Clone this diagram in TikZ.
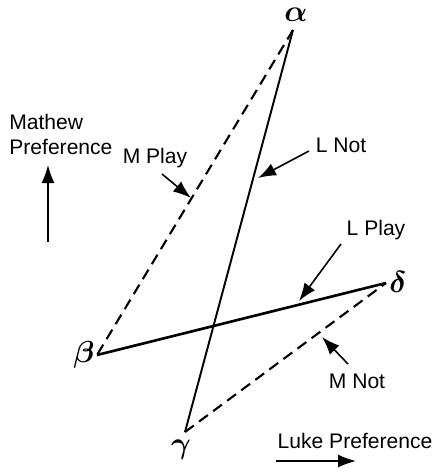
\documentclass[tikz,border=0pt]{standalone}
\usepackage{amsmath}
\usepackage{fontspec}
\setsansfont{Liberation Sans}
\usetikzlibrary{arrows.meta, positioning}

\begin{document}
\begin{tikzpicture}[x=0.02cm, y=-0.02cm,
    side/.style={line width=1.1pt},
    dashside/.style={line width=1.2pt, dash pattern=on 0.22cm off 0.13cm},
    pointer/.style={-{Latex[length=0.36cm, width=0.26cm]}, line width=0.9pt},
    tag/.style={font=\sffamily\fontsize{12}{14}\selectfont, inner sep=0pt},
    vertex/.style={font=\fontsize{17}{17}\selectfont, inner sep=0pt}]
    \useasboundingbox (0,0) rectangle (438,474);
    % corners of the two quadrilateral sides
    \coordinate (a) at (293,30);
    \coordinate (b) at (97,355);
    \coordinate (g) at (185,432);
    \coordinate (d) at (386,283);
    \node[vertex] (alab) at (296,15) {$\boldsymbol{\alpha}$};
    \node[vertex] (blab) at (84,355) {$\boldsymbol{\beta}$};
    \node[vertex] (glab) at (181,450) {$\boldsymbol{\gamma}$};
    \node[vertex] (dlab) at (398,282) {$\boldsymbol{\delta}$};

    % sides
    \draw[dashside] (a) -- (b);
    \draw[side] (a) -- (g);
    \draw[side, line width=1.5pt] (b) -- (d);
    \draw[dashside] (g) -- (d);

    % labels with pointers
    \node[tag] (mplay) at (155,158) {M Play};
    \coordinate (mplaytip) at (191,198);
    \draw[pointer] (162,174) -- (mplaytip);
    \node[tag] (lnot) at (341,145) {L Not};
    \coordinate (lnottip) at (258,178);
    \draw[pointer] (309,151) -- (lnottip);
    \node[tag] (lplay) at (376,230) {L Play};
    \coordinate (lplaytip) at (299,301);
    \draw[pointer] (341,244) -- (lplaytip);
    \node[tag] (mnot) at (357,381) {M Not};
    \coordinate (mnottip) at (322,337);
    \draw[pointer] (348,364) -- (mnottip);

    % axes
    \node[tag, align=left, anchor=north west] (mathew) at (9,114) {Mathew\\Preference};
    \coordinate (mbot) at (48,242);
    \coordinate (mtop) at (48,165);
    \draw[pointer] (mbot) -- (mtop);
    \node[tag] (luke) at (355,441) {Luke Preference};
    \coordinate (lleft) at (276,461);
    \coordinate (lright) at (356,461);
    \draw[pointer] (lleft) -- (lright);
\end{tikzpicture}
\end{document}
